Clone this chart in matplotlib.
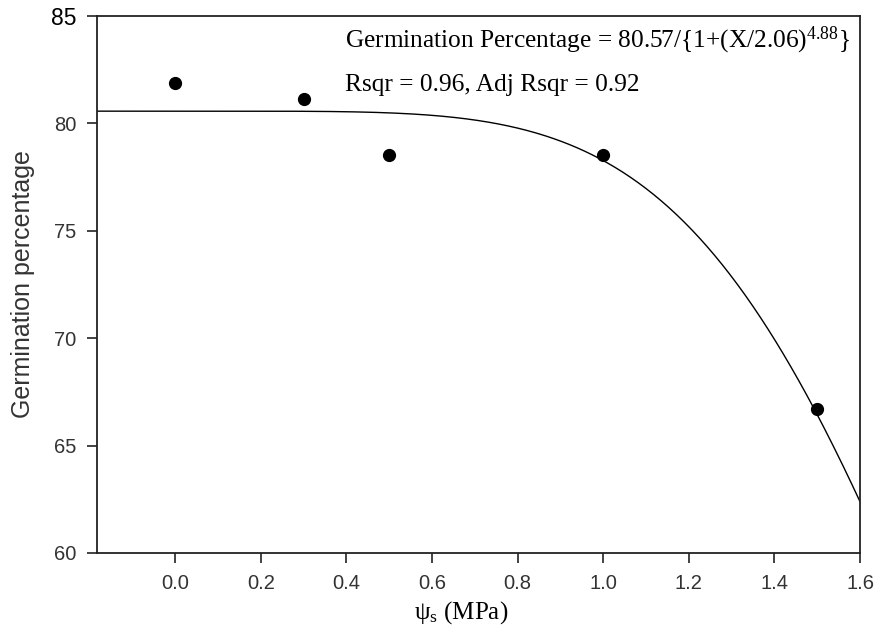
import numpy as np
import matplotlib.pyplot as plt

plt.rcParams["mathtext.fontset"] = "custom"
plt.rcParams["mathtext.rm"] = "Liberation Serif"
plt.rcParams["mathtext.it"] = "Liberation Serif:italic"

# observed germination data
psi = [0.0, 0.3, 0.5, 1.0, 1.5]
germ = [81.9, 81.15, 78.55, 78.55, 66.7]

# fitted curve parameters: a / (1 + (x/x0)^b)
a, x0, b = 80.57, 2.06, 4.88

xticks = [0.0, 0.2, 0.4, 0.6, 0.8, 1.0, 1.2, 1.4, 1.6]
yticks = [60, 65, 70, 75, 80, 85]

W, H = 877, 629
fig = plt.figure(figsize=(W / 100, H / 100), dpi=100)
ax = fig.add_axes([97 / W, 1 - 553 / H, (860 - 97) / W, (553 - 16) / H])

xmin, xmax = -0.183, 1.6
xs = np.linspace(xmin, xmax, 400)
fit = a / (1 + (np.clip(xs, 0, None) / x0) ** b)

ax.plot(xs, fit, color="black", lw=1.0)
ax.plot(psi, germ, "o", color="black", ms=8.5)

ax.set_xlim(xmin, xmax)
ax.set_ylim(60, 85)
ax.set_xticks(xticks)
ax.set_xticklabels([f"{t:.1f}" for t in xticks])
ax.set_yticks(yticks)

for s in ax.spines.values():
    s.set_linewidth(1.3)
    s.set_color("#222222")

ax.tick_params(direction="out", length=7, width=1.2, colors="#222222",
               labelsize=14.5, pad=8)
for lab in ax.get_xticklabels() + ax.get_yticklabels():
    lab.set_family("Liberation Sans")
    lab.set_color("#333333")
ax.get_yticklabels()[-1].set_color("black")
ax.get_yticklabels()[-1].set_fontsize(16.5)

fig.text(23 / W, 1 - 284 / H, "Germination percentage", rotation=90,
         fontsize=18, family="Liberation Sans", color="#333333",
         ha="center", va="center")

fig.text(461 / W, 1 - 613 / H, r"$\mathrm{\psi_s}$ (MPa)", fontsize=18,
         family="Liberation Serif", ha="center", va="center")

fig.text(345 / W, 1 - 47 / H,
         r"Germination Percentage = 80.57/{1+(X/2.06)$^{4.88}$}",
         fontsize=18.3, family="Liberation Serif", va="baseline")
fig.text(345 / W, 1 - 91 / H, "Rsqr = 0.96, Adj Rsqr = 0.92",
         fontsize=18.3, family="Liberation Serif", va="baseline")

fig.savefig("out.png", dpi=100)
